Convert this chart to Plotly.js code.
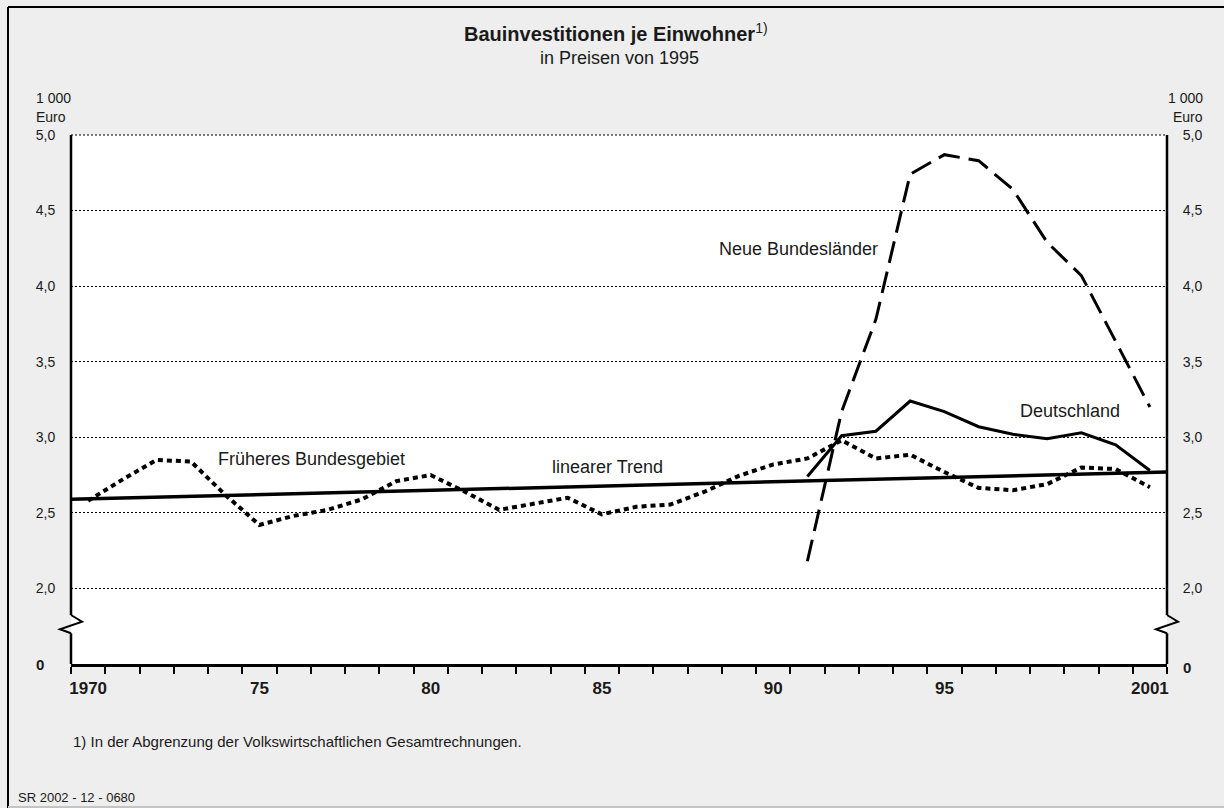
<!DOCTYPE html>
<html>
<head>
<meta charset="utf-8">
<script src="https://cdn.plot.ly/plotly-3.0.1.min.js"></script>
<style>
  html, body { margin: 0; padding: 0; background: #eeeeee; }
  #chart { width: 1224px; height: 808px; }
</style>
</head>
<body>
<div id="chart"></div>
<script>
// ---------- data ----------
const years = [1970,1971,1972,1973,1974,1975,1976,1977,1978,1979,1980,1981,1982,1983,1984,1985,
               1986,1987,1988,1989,1990,1991,1992,1993,1994,1995,1996,1997,1998,1999,2000,2001];
const frueheresBundesgebiet = [2.58,2.72,2.85,2.84,2.62,2.42,2.48,2.52,2.59,2.71,2.75,2.64,2.52,2.56,2.60,2.49,
                               2.54,2.555,2.64,2.745,2.82,2.86,2.98,2.86,2.885,2.77,2.665,2.65,2.69,2.80,2.79,2.67];
const yearsNeu = [1991,1992,1993,1994,1995,1996,1997,1998,1999,2000,2001];
const deutschland = [2.74,3.01,3.04,3.24,3.17,3.07,3.02,2.99,3.03,2.95,2.78];
const neueBundeslaender = [2.18,3.17,3.78,4.74,4.87,4.83,4.64,4.29,4.07,3.63,3.20];
const trendYears = [1969.5, 2001.5];
const trendValues = [2.59, 2.77];

const yTickVals = [2.0, 2.5, 3.0, 3.5, 4.0, 4.5, 5.0];
const yTickText = ['2,0','2,5','3,0','3,5','4,0','4,5','5,0'];
const xLabelYears = [1970, 1975, 1980, 1985, 1990, 1995, 2001];
const xLabelText = ['1970','75','80','85','90','95','2001'];
const zeroValue = 1.5;   // position where the broken axis shows "0"

// ---------- geometry helpers (decoration only) ----------
const W = 1224, H = 808;
const M = {l: 71, r: 57, t: 135, b: 144};
const PW = W - M.l - M.r, PH = H - M.t - M.b;
const yMin = 1.5, yMax = 5.0;
const px = x => (x - M.l) / PW;                 // pixel x -> paper
const py = y => (H - M.b - y) / PH;             // pixel y -> paper
const vy = v => (v - yMin) / (yMax - yMin);     // value -> paper y

const xBoundaries = [];
for (let i = 0; i <= years.length; i++) xBoundaries.push(years[0] - 0.5 + i);

const FONT = 'Liberation Sans, Arial, sans-serif';
const txt = '#1a1a1a';

const traces = [
  {x: years, y: frueheresBundesgebiet, type: 'scatter', mode: 'lines', name: 'Früheres Bundesgebiet',
   line: {color: '#000', width: 4, dash: '5px,4px'}, xaxis: 'x', yaxis: 'y'},
  {x: yearsNeu, y: neueBundeslaender, type: 'scatter', mode: 'lines', name: 'Neue Bundesländer',
   line: {color: '#000', width: 3, dash: '22px,9px'}, xaxis: 'x', yaxis: 'y'},
  {x: yearsNeu, y: deutschland, type: 'scatter', mode: 'lines', name: 'Deutschland',
   line: {color: '#000', width: 3}, xaxis: 'x', yaxis: 'y'},
  {x: trendYears, y: trendValues, type: 'scatter', mode: 'lines', name: 'linearer Trend',
   line: {color: '#000', width: 3.5}, xaxis: 'x2', yaxis: 'y2'}
];

// axis break zigzags
function breakPath(x0) {
  const a = py(615), b = py(621.7), c = py(629.3), d = py(633.3);
  return `M ${px(x0)} ${a} L ${px(x0 + 11)} ${b} L ${px(x0 - 11)} ${c} L ${px(x0)} ${d}`;
}
const lineStyle = {color: '#000', width: 2.5};
const shapes = [
  // outer frame
  {type: 'line', xref: 'paper', yref: 'paper', x0: px(8), x1: px(8), y0: py(7), y1: py(808), line: {color: '#000', width: 2}},
  {type: 'line', xref: 'paper', yref: 'paper', x0: px(8), x1: px(1224), y0: py(7), y1: py(7), line: {color: '#000', width: 2}},
  {type: 'line', xref: 'paper', yref: 'paper', x0: px(8), x1: px(1224), y0: py(807), y1: py(807), line: {color: '#c4c4c4', width: 2}},
  // top dotted grid line at 5,0
  {type: 'line', xref: 'paper', yref: 'paper', x0: 0, x1: 1, y0: vy(yMax), y1: vy(yMax), line: {color: '#000', width: 1.2, dash: '2px,2px'}},
  // left axis with break
  {type: 'line', xref: 'paper', yref: 'paper', x0: 0, x1: 0, y0: 1, y1: py(615), line: lineStyle},
  {type: 'line', xref: 'paper', yref: 'paper', x0: 0, x1: 0, y0: py(633.3), y1: 0, line: lineStyle},
  {type: 'path', xref: 'paper', yref: 'paper', path: breakPath(M.l), line: {color: '#000', width: 2}},
  // right axis with break
  {type: 'line', xref: 'paper', yref: 'paper', x0: 1, x1: 1, y0: 1, y1: py(615), line: lineStyle},
  {type: 'line', xref: 'paper', yref: 'paper', x0: 1, x1: 1, y0: py(633.3), y1: 0, line: lineStyle},
  {type: 'path', xref: 'paper', yref: 'paper', path: breakPath(W - M.r), line: {color: '#000', width: 2}}
];

function ann(text, x, y, size, xanchor, extra) {
  return Object.assign({text: text, xref: 'paper', yref: 'paper', x: x, y: y, xanchor: xanchor || 'center',
    yanchor: 'middle', showarrow: false, font: {family: FONT, size: size, color: txt}}, extra || {});
}

const annotations = [
  ann('<b>Bauinvestitionen je Einwohner</b><sup>1)</sup>', px(616), py(33), 20),
  ann('in Preisen von 1995', px(619), py(58), 18),
  ann('1 000', px(34), py(98), 14, 'left'),
  ann('Euro', px(34), py(117), 14, 'left'),
  ann('1 000', px(1205), py(98), 14, 'right'),
  ann('Euro', px(1205), py(117), 14, 'right'),
  ann('<b>0</b>', px(34), vy(zeroValue), 15, 'left'),
  ann('<b>0</b>', px(1181), py(667), 15, 'left'),
  ann('Früheres Bundesgebiet', px(311), py(459), 18),
  ann('linearer Trend', px(607), py(467), 18),
  ann('Neue Bundesländer', px(798), py(249), 18),
  ann('Deutschland', px(1070), py(411), 18),
  ann('1) In der Abgrenzung der Volkswirtschaftlichen Gesamtrechnungen.', px(71), py(741), 15, 'left'),
  ann('SR 2002 - 12 - 0680', px(16), py(797), 13, 'left')
];

const layout = {
  width: W, height: H,
  margin: M,
  paper_bgcolor: '#eeeeee',
  plot_bgcolor: '#ffffff',
  showlegend: false,
  font: {family: FONT, color: txt},
  xaxis: {
    range: [years[0] - 0.5, years[years.length - 1] + 0.5],
    tickmode: 'array', tickvals: xBoundaries, showticklabels: false,
    ticks: 'outside', ticklen: 7, tickwidth: 2, tickcolor: '#000',
    showline: true, linecolor: '#000', linewidth: 2.5,
    showgrid: false, zeroline: false, fixedrange: true
  },
  xaxis2: {
    overlaying: 'x', anchor: 'y2', side: 'bottom',
    range: [years[0] - 0.5, years[years.length - 1] + 0.5],
    tickmode: 'array', tickvals: xLabelYears, ticktext: xLabelText,
    ticks: 'outside', ticklen: 9, tickcolor: 'rgba(0,0,0,0)',
    tickfont: {family: FONT, size: 17, color: txt, weight: 'bold'},
    showline: false, showgrid: false, zeroline: false, fixedrange: true
  },
  yaxis: {
    range: [yMin, yMax],
    tickmode: 'array', tickvals: yTickVals, ticktext: yTickText,
    ticks: 'outside', ticklen: 12, tickcolor: 'rgba(0,0,0,0)',
    tickfont: {family: FONT, size: 14, color: txt},
    showline: false, showgrid: true, gridcolor: '#000', gridwidth: 1, griddash: '2px,2px',
    zeroline: false, fixedrange: true
  },
  yaxis2: {
    overlaying: 'y', anchor: 'x2', side: 'right',
    range: [yMin, yMax],
    tickmode: 'array', tickvals: yTickVals, ticktext: yTickText,
    ticks: 'outside', ticklen: 12, tickcolor: 'rgba(0,0,0,0)',
    tickfont: {family: FONT, size: 14, color: txt},
    showline: false, showgrid: false, zeroline: false, fixedrange: true
  },
  shapes: shapes,
  annotations: annotations
};

Plotly.newPlot('chart', traces, layout, {displayModeBar: false, staticPlot: true});
</script>
</body>
</html>
